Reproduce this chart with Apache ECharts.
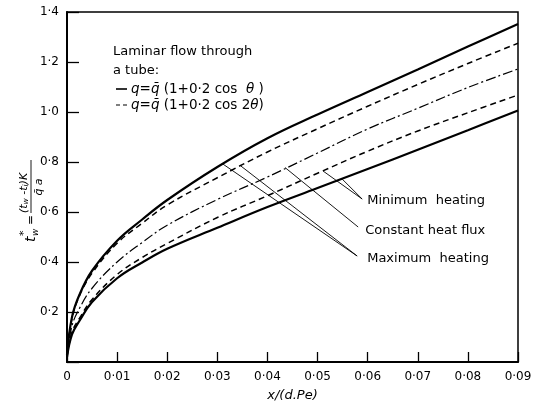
<!DOCTYPE html>
<html>
<head>
<meta charset="utf-8">
<script src="https://cdn.jsdelivr.net/npm/echarts@6/dist/echarts.min.js"></script>
<style>
html, body { margin: 0; padding: 0; background: #fff; }
#main { width: 538px; height: 408px; }
</style>
</head>
<body>
<div id="main"></div>
<script>
// x/(d.Pe) sample points
var xVals = [0, 0.001, 0.0025, 0.005, 0.01, 0.015, 0.02, 0.03, 0.04, 0.05, 0.06, 0.07, 0.08, 0.09];

// q = qbar(1+0.2 cos theta) : maximum / minimum heating (solid)
var cosMax = [0.03, 0.18, 0.27, 0.365, 0.485, 0.57, 0.648, 0.78, 0.895, 0.99, 1.08, 1.17, 1.262, 1.352];
var cosMin = [0.02, 0.11, 0.165, 0.24, 0.335, 0.398, 0.453, 0.537, 0.62, 0.696, 0.772, 0.849, 0.927, 1.006];
// q = qbar(1+0.2 cos 2theta) : maximum / minimum heating (dashed)
var cos2Max = [0.03, 0.175, 0.265, 0.355, 0.475, 0.555, 0.628, 0.737, 0.84, 0.933, 1.023, 1.11, 1.194, 1.275];
var cos2Min = [0.02, 0.12, 0.175, 0.25, 0.35, 0.418, 0.474, 0.578, 0.665, 0.755, 0.843, 0.924, 0.997, 1.068];
// constant heat flux (dash-dot)
var constFlux = [0.025, 0.145, 0.215, 0.295, 0.4, 0.478, 0.547, 0.65, 0.74, 0.836, 0.932, 1.015, 1.098, 1.172];

// leader lines (data coords) and their labels
var leaderMax = [[[0.0311, 0.792], [0.0579, 0.424]], [[0.0347, 0.784], [0.0579, 0.424]]];
var leaderConst = [[[0.0435, 0.778], [0.0581, 0.54]]];
var leaderMin = [[[0.0511, 0.764], [0.0589, 0.652]], [[0.0549, 0.732], [0.0589, 0.652]]];
var labelNames = ['Minimum  heating', 'Constant heat flux', 'Maximum  heating'];
var labelPos = [[0.0599, 0.644], [0.0595, 0.524], [0.0599, 0.412]];

var FONT = 'DejaVu Sans';

function pairs(ys) {
    var out = [];
    for (var i = 0; i < xVals.length; i++) {
        out.push([xVals[i], ys[i]]);
    }
    return out;
}

function dotFmt(v, digits) {
    return v.toFixed(digits).replace('.', '\u00b7');
}

var chart = echarts.init(document.getElementById('main'));

var allLeaders = leaderMax.concat(leaderConst).concat(leaderMin).map(function (seg) {
    return [{ coord: seg[0] }, { coord: seg[1] }];
});

function curve(name, ys, width, type) {
    return {
        name: name,
        type: 'line',
        data: pairs(ys),
        showSymbol: false,
        symbol: 'none',
        smooth: 0.4,
        lineStyle: { color: '#000', width: width, type: type },
        silent: true,
        animation: false
    };
}

var series = [
    curve('cosMax', cosMax, 2.2, 'solid'),
    curve('cos2Max', cos2Max, 1.5, [6, 4]),
    curve('constFlux', constFlux, 1.2, [10, 3, 2, 3]),
    curve('cos2Min', cos2Min, 1.5, [6, 4]),
    curve('cosMin', cosMin, 2.2, 'solid')
];
series[0].markLine = {
    silent: true,
    symbol: ['none', 'none'],
    label: { show: false },
    lineStyle: { color: '#000', width: 0.9, type: 'solid' },
    data: allLeaders,
    animation: false
};

var option = {
    backgroundColor: '#fff',
    animation: false,
    grid: {
        left: 67, right: 20, top: 12, bottom: 46,
        show: true, borderColor: '#000', borderWidth: 1.5
    },
    xAxis: {
        type: 'value',
        min: 0, max: 0.09, interval: 0.01,
        name: 'x/(d.Pe)',
        nameLocation: 'middle',
        nameGap: 27,
        nameTextStyle: { fontFamily: FONT, fontSize: 13, fontStyle: 'italic', color: '#000' },
        axisLine: { show: true, lineStyle: { color: '#000', width: 2 } },
        axisTick: { show: true, inside: true, length: 10, lineStyle: { color: '#000', width: 1.3 } },
        splitLine: { show: false },
        axisLabel: {
            fontFamily: FONT, fontSize: 12, color: '#000', margin: 9,
            formatter: function (v) { return v === 0 ? '0' : dotFmt(v, 2); }
        }
    },
    yAxis: {
        type: 'value',
        min: 0, max: 1.4, interval: 0.2,
        axisLine: { show: true, lineStyle: { color: '#000', width: 2 } },
        axisTick: { show: true, inside: true, length: 12, lineStyle: { color: '#000', width: 1.3 } },
        splitLine: { show: false },
        axisLabel: {
            fontFamily: FONT, fontSize: 12, color: '#000', margin: 8,
            formatter: function (v) { return v === 0 ? '' : dotFmt(v, 1); }
        }
    },
    series: series
};

chart.setOption(option);

// legend block + annotation text + y-axis title
var txt = { fontFamily: FONT, fontSize: 13, fill: '#000' };
var rich = {
    n: { fontFamily: FONT, fontSize: 13.5 },
    i: { fontFamily: FONT, fontSize: 13.5, fontStyle: 'italic' }
};
var graphics = [
    { type: 'text', x: 113, y: 52, style: Object.assign({ text: 'Laminar flow through', verticalAlign: 'middle' }, txt) },
    { type: 'text', x: 113, y: 71, style: Object.assign({ text: 'a tube:', verticalAlign: 'middle' }, txt) },
    { type: 'line', shape: { x1: 116, y1: 89, x2: 127, y2: 89 }, style: { stroke: '#000', lineWidth: 1.6 } },
    { type: 'text', x: 131, y: 89, style: { text: '{i|q}{n|=}{i|q\u0304}{n| (1+0\u00b72 cos  }{i|\u03b8}{n| )}', rich: rich, verticalAlign: 'middle', fill: '#000' } },
    { type: 'line', shape: { x1: 116, y1: 105, x2: 127, y2: 105 }, style: { stroke: '#000', lineWidth: 1.2, lineDash: [4, 3] } },
    { type: 'text', x: 131, y: 105, style: { text: '{i|q}{n|=}{i|q\u0304}{n| (1+0\u00b72 cos 2}{i|\u03b8}{n|)}', rich: rich, verticalAlign: 'middle', fill: '#000' } }
];

for (var k = 0; k < labelNames.length; k++) {
    var p = chart.convertToPixel({ gridIndex: 0 }, labelPos[k]);
    graphics.push({
        type: 'text', x: p[0], y: p[1],
        style: { text: labelNames[k], fontFamily: FONT, fontSize: 13, fill: '#000', verticalAlign: 'middle' }
    });
}

var sm = { fontFamily: FONT, fontSize: 9, fontStyle: 'italic', fill: '#000' };
graphics.push({
    type: 'group', x: 31, y: 198, rotation: Math.PI / 2,
    children: [
        { type: 'text', x: -44, y: 0, style: { text: 't', fontFamily: FONT, fontSize: 14, fontStyle: 'italic', fill: '#000', verticalAlign: 'middle' } },
        { type: 'text', x: -38, y: 5, style: Object.assign({ text: 'w', verticalAlign: 'middle' }, sm) },
        { type: 'text', x: -38, y: -7, style: { text: '*', fontFamily: FONT, fontSize: 11, fill: '#000', verticalAlign: 'middle' } },
        { type: 'text', x: -27, y: 0, style: { text: '=', fontFamily: FONT, fontSize: 12, fill: '#000', verticalAlign: 'middle' } },
        { type: 'line', shape: { x1: -15, y1: 0, x2: 38, y2: 0 }, style: { stroke: '#000', lineWidth: 0.9 } },
        { type: 'text', x: -15, y: -7, style: {
            text: '{a|(t}{s|w}{a| -t}{s|i}{a|)K}',
            rich: {
                a: { fontFamily: FONT, fontSize: 11, fontStyle: 'italic', lineHeight: 13, verticalAlign: 'middle' },
                s: { fontFamily: FONT, fontSize: 7.5, fontStyle: 'italic', lineHeight: 13, verticalAlign: 'bottom' }
            },
            fill: '#000', verticalAlign: 'middle' } },
        { type: 'text', x: 11, y: 8, style: { text: 'q\u0304 a', fontFamily: FONT, fontSize: 11, fontStyle: 'italic', fill: '#000', align: 'center', verticalAlign: 'middle' } }
    ]
});

chart.setOption({ graphic: graphics });
</script>
</body>
</html>
